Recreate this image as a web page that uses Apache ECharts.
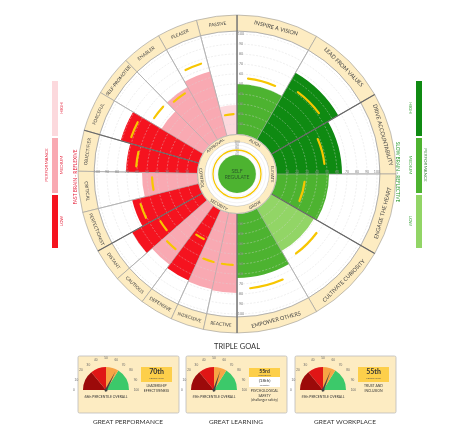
<!DOCTYPE html>
<html><head><meta charset="utf-8">
<script src="https://cdn.jsdelivr.net/npm/echarts@6/dist/echarts.min.js"></script>
<style>html,body{margin:0;padding:0;background:#fff}#c{width:475px;height:429px}</style>
</head><body><div id="c"></div>
<script>
// ---- data ----
var rightLabels = ['INSPIRE A VISION','LEAD FROM VALUES','DRIVE ACCOUNTABILITY','ENGAGE THE HEART','CULTIVATE CURIOSITY','EMPOWER OTHERS'];
var rightValues = [50,77,65,52,49,64];
var rightMarks  = [56,62,48,28,59,75];
var rightLevel  = [1,0,0,1,2,1];
var leftLabels = ['PASSIVE','PLEASER','ENABLER','SELF-PROMOTER','FORCEFUL','OBJECTIFIER','CRITICAL','PERFECTIONIST','DISTANT','CAUTIOUS','DEFENSIVE','INDECISIVE','REACTIVE'];
var leftValues = [29,66,60,48,81,71,55,68,80,73,77,78,79];
var leftMarks  = [20,76,56,60,72,61,45,61,50,57,33,51,51];
var leftLevel  = [0,1,1,1,2,2,1,2,2,1,2,1,1];
var leftBounds = [0,14.8,29.6,44.4,59.2,74,89,104,119,131.2,143.4,155.6,167.8,180];
var hubLabels = ['ALIGN','ELEVATE','GROW','SECURITY','CONTROL','APPROVAL'];
var hubAngles = [30,90,150,210.5,263.5,323];
var groupLines = [0,60,120,180,241,286];
var ticks = [10,20,30,40,50,60,70,80,90,100];
var selfValue = 59, selfMark = 75;
var gaugeValues = [65,60,62];
var gaugeOverall = ['68th PERCENTILE OVERALL','59th PERCENTILE OVERALL','59th PERCENTILE OVERALL'];
var goalTitles = ['GREAT PERFORMANCE','GREAT LEARNING','GREAT WORKPLACE'];

var greens = ['#0f8a12','#4db330','#92d566'];
var reds = ['#fcd9dd','#f9a9b2','#f5131f'];
var FONT = 'Lato';

// build sector records
var sectors = [];
rightLabels.forEach(function(l,i){
  sectors.push({label:l, a1:i*30, a2:i*30+30, v:rightValues[i], m:rightMarks[i], color:greens[rightLevel[i]]});
});
leftLabels.forEach(function(l,i){
  sectors.push({label:l, a1:360-leftBounds[i+1], a2:360-leftBounds[i], v:leftValues[i], m:leftMarks[i], color:reds[leftLevel[i]]});
});
var sectorData = sectors.map(function(s,i){ return [s.v,(s.a1+s.a2)/2,s.a1,s.a2,s.m,i]; });

function rad(a){ return (a-90)*Math.PI/180; }
function rOf(api,params,v,a){ var p=api.coord([v,a]); var cs=params.coordSys; return Math.hypot(p[0]-cs.cx,p[1]-cs.cy); }
function pos(cs,r,a){ var t=a*Math.PI/180; return [cs.cx+r*Math.sin(t), cs.cy-r*Math.cos(t)]; }
function rot(a){ var r=-a*Math.PI/180; if(a>90&&a<270) r+=Math.PI; return r; }

var chart = echarts.init(document.getElementById('c'));
var series = [];

// background white sectors + outer label ring
series.push({type:'custom', coordinateSystem:'polar', polarIndex:0, data:sectorData, silent:true, z:1,
  renderItem:function(params,api){
    var cs=params.coordSys, a1=api.value(2), a2=api.value(3), s=sectors[api.value(5)];
    var mid=(a1+a2)/2, p=pos(cs,151,mid);
    return {type:'group', children:[
      {type:'sector', shape:{cx:cs.cx,cy:cs.cy,r0:40,r:143,startAngle:rad(a1),endAngle:rad(a2),clockwise:true}, style:{fill:'#fff',stroke:'#aaa',lineWidth:0.6}},
      {type:'sector', shape:{cx:cs.cx,cy:cs.cy,r0:143,r:159,startAngle:rad(a1),endAngle:rad(a2),clockwise:true}, style:{fill:'#fdecc2',stroke:'#999',lineWidth:0.6}},
      {type:'text', x:p[0], y:p[1], rotation:rot(mid), style:{text:s.label, fontSize:a2-a1>20?5.5:4.6, fontFamily:FONT, fill:'#444', align:'center', verticalAlign:'middle'}}
    ]};
  }});
// bars
series.push({type:'custom', coordinateSystem:'polar', polarIndex:0, data:sectorData, z:2,
  renderItem:function(params,api){
    var cs=params.coordSys, a1=api.value(2), a2=api.value(3), s=sectors[api.value(5)];
    var r=rOf(api,params,api.value(0),api.value(1));
    return {type:'sector', shape:{cx:cs.cx,cy:cs.cy,r0:40,r:r,startAngle:rad(a1),endAngle:rad(a2),clockwise:true}, style:{fill:s.color}};
  }});
// grid rings over bars
series.push({type:'custom', coordinateSystem:'polar', polarIndex:0, data:ticks.map(function(t){return [t,0];}), silent:true, z:3,
  renderItem:function(params,api){
    var cs=params.coordSys, r=rOf(api,params,api.value(0),0);
    return {type:'circle', shape:{cx:cs.cx,cy:cs.cy,r:r}, style:{fill:null,stroke:'rgba(215,215,215,0.8)',lineWidth:0.5,lineDash:[2,1.5]}};
  }});
// thin sector boundaries
series.push({type:'custom', coordinateSystem:'polar', polarIndex:0, data:sectorData, silent:true, z:4,
  renderItem:function(params,api){
    var cs=params.coordSys, a=api.value(2), p1=pos(cs,40,a), p2=pos(cs,143,a);
    return {type:'line', shape:{x1:p1[0],y1:p1[1],x2:p2[0],y2:p2[1]}, style:{stroke:'#aaa',lineWidth:0.6}};
  }});
// yellow marks
series.push({type:'custom', coordinateSystem:'polar', polarIndex:0, data:sectorData, z:5,
  renderItem:function(params,api){
    var cs=params.coordSys, a1=api.value(2), a2=api.value(3), w=a2-a1;
    var r=rOf(api,params,api.value(4),api.value(1));
    return {type:'arc', shape:{cx:cs.cx,cy:cs.cy,r:r,startAngle:rad(a1+w*0.22),endAngle:rad(a2-w*0.22),clockwise:true}, style:{stroke:'#f7c600',lineWidth:2.2,fill:null,lineCap:'round'}};
  }});
// thick group lines
series.push({type:'custom', coordinateSystem:'polar', polarIndex:0, data:groupLines.map(function(g){return [0,g];}), silent:true, z:6,
  renderItem:function(params,api){
    var cs=params.coordSys, a=api.value(1), p1=pos(cs,40,a), p2=pos(cs,159,a);
    return {type:'line', shape:{x1:p1[0],y1:p1[1],x2:p2[0],y2:p2[1]}, style:{stroke:'#666',lineWidth:1.1}};
  }});
// tick labels in 4 directions
var tickData=[]; [0,90,180,270].forEach(function(d){ ticks.forEach(function(t){ tickData.push([t,d]); }); });
series.push({type:'custom', coordinateSystem:'polar', polarIndex:0, data:tickData, silent:true, z:7,
  renderItem:function(params,api){
    var p=api.coord([api.value(0),api.value(1)]), d=api.value(1);
    var dx=(d===0||d===180)?4:0, dy=(d===90||d===270)?-2.5:0;
    return {type:'text', x:p[0]+dx, y:p[1]+dy, style:{text:String(api.value(0)), fontSize:3.6, fill:'#888', fontFamily:FONT, align:'center', verticalAlign:'middle'}};
  }});
// hub ring
series.push({type:'custom', coordinateSystem:'polar', polarIndex:0, data:hubLabels.map(function(l,i){return [0,hubAngles[i],i];}), silent:true, z:8,
  renderItem:function(params,api){
    var cs=params.coordSys, i=api.value(2), a=api.value(1), p=pos(cs,35.8,a);
    var ch=[];
    if(i===0){ ch.push({type:'ring', shape:{cx:cs.cx,cy:cs.cy,r0:32,r:39.5}, style:{fill:'#fdecc2',stroke:'#999',lineWidth:0.6}}); }
    ch.push({type:'text', x:p[0], y:p[1], rotation:rot(a), style:{text:hubLabels[i], fontSize:4.2, fill:'#444', fontFamily:FONT, align:'center', verticalAlign:'middle'}});
    return {type:'group', children:ch};
  }});
// inner self-regulate polar
series.push({type:'custom', coordinateSystem:'polar', polarIndex:1, data:[[selfValue,0,selfMark]], z:9,
  renderItem:function(params,api){
    var cs=params.coordSys, r=rOf(api,params,api.value(0),0), rm=rOf(api,params,api.value(2),0);
    var ch=[{type:'circle', shape:{cx:cs.cx,cy:cs.cy,r:32}, style:{fill:'#fff'}}];
    ticks.forEach(function(t){ var rr=rOf(api,params,t,0); ch.push({type:'circle', shape:{cx:cs.cx,cy:cs.cy,r:rr}, style:{fill:null,stroke:'#e2e2e2',lineWidth:0.4}}); });
    ch.push({type:'circle', shape:{cx:cs.cx,cy:cs.cy,r:r}, style:{fill:'#4db330'}});
    ch.push({type:'circle', shape:{cx:cs.cx,cy:cs.cy,r:rm}, style:{fill:null,stroke:'#f7c600',lineWidth:1.3}});
    ticks.forEach(function(t){ if(t>=60){ var rr=rOf(api,params,t,0); ch.push({type:'text', x:cs.cx, y:cs.cy-rr, style:{text:String(t), fontSize:3.3, fill:'#888', align:'center', verticalAlign:'middle'}}); }});
    ch.push({type:'text', x:cs.cx, y:cs.cy, style:{text:'SELF\nREGULATE', fontSize:5, lineHeight:6, fill:'#2a5a2a', fontFamily:FONT, align:'center', verticalAlign:'middle'}});
    return {type:'group', children:ch};
  }});

// gauges
var gaugeCenters = [[106,390],[214,390],[323,390]];
gaugeValues.forEach(function(v,i){
  series.push({type:'gauge', center:gaugeCenters[i], radius:23, startAngle:180, endAngle:0, min:0, max:100, splitNumber:10,
    axisLine:{lineStyle:{width:23, color:[[0.28,'#9c0a0a'],[0.5,'#e01616'],[0.68,'#f7a445'],[1,'#3cc96a']]}},
    splitLine:{show:false}, axisTick:{show:false},
    axisLabel:{distance:-30, fontSize:3.2, color:'#666'},
    pointer:{width:1, length:'90%', itemStyle:{color:'#444'}},
    anchor:{show:true, size:3, itemStyle:{color:'#444'}},
    title:{show:false}, detail:{show:false}, data:[{value:v}], z:10});
});

// decorations
var g = [];
function T(x,y,t,o){ o=o||{}; g.push({type:'text', x:x, y:y, rotation:o.rot||0, z:20, style:{text:t, fontSize:o.fs||5, fill:o.c||'#444', fontFamily:FONT, fontWeight:o.fw||'normal', align:'center', verticalAlign:'middle', lineHeight:o.lh}}); }
function R(x,y,w,h,f,s){ g.push({type:'rect', shape:{x:x,y:y,width:w,height:h,r:s?1.5:0}, z:s?2:15, style:{fill:f, stroke:s||null, lineWidth:0.8}}); }
// legends
R(52,81,6,55,reds[0]); R(52,138,6,55,reds[1]); R(52,195,6,53,reds[2]);
R(416,81,6,55,greens[0]); R(416,138,6,55,greens[1]); R(416,195,6,53,greens[2]);
T(62,108,'HIGH',{rot:Math.PI/2,fs:4.5,c:'#e5213a'}); T(62,165,'MEDIUM',{rot:Math.PI/2,fs:4.5,c:'#e5213a'}); T(62,221,'LOW',{rot:Math.PI/2,fs:4.5,c:'#e5213a'});
T(47,165,'PERFORMANCE',{rot:Math.PI/2,fs:4.5,c:'#e5213a'}); T(75,177,'FAST BRAIN - REFLEXIVE',{rot:Math.PI/2,fs:4.8,c:'#e5213a'});
T(410,108,'HIGH',{rot:-Math.PI/2,fs:4.5,c:'#2a9a2a'}); T(410,165,'MEDIUM',{rot:-Math.PI/2,fs:4.5,c:'#2a9a2a'}); T(410,221,'LOW',{rot:-Math.PI/2,fs:4.5,c:'#2a9a2a'});
T(425,165,'PERFORMANCE',{rot:-Math.PI/2,fs:4.5,c:'#2a7a2a'}); T(398,172,'SLOW BRAIN - REFLECTIVE',{rot:-Math.PI/2,fs:4.8,c:'#2a9a2a'});
// triple goal
T(237,347,'TRIPLE GOAL',{fs:7.5,c:'#333'});
var bx=[78,186,295];
bx.forEach(function(x,i){
  R(x,356,101,57,'#fdecc2','#bbb');
  T(gaugeCenters[i][0],397,gaugeOverall[i],{fs:3.4,c:'#333'});
  T(x+50,422,goalTitles[i],{fs:6.5,c:'#333'});
});
R(141,367,31,15,'#fdcf4a'); T(156.5,372,'70th',{fs:7,fw:'bold',c:'#333'}); T(156.5,378.5,'PERCENTILE',{fs:2.5,c:'#555'});
T(156.5,386,'LEADERSHIP',{fs:3.4,c:'#333'}); T(156.5,391,'EFFECTIVENESS',{fs:3.4,c:'#333'});
R(249,368,31,9,'#fdcf4a'); T(264.5,371,'55rd',{fs:5,fw:'bold',c:'#333'}); T(264.5,375.5,'PERCENTILE',{fs:2.2,c:'#555'});
R(249,377,31,10,'#fff'); T(264.5,381,'(18th)',{fs:4.5,c:'#333'}); T(264.5,385,'Percentile',{fs:2.2,c:'#555'});
T(264.5,391,'PSYCHOLOGICAL',{fs:3.4,c:'#333'}); T(264.5,395.5,'SAFETY',{fs:3.4,c:'#333'}); T(264.5,400,'(challenger safety)',{fs:3.4,c:'#333'});
R(358,367,31,15,'#fdcf4a'); T(373.5,372,'55th',{fs:7,fw:'bold',c:'#333'}); T(373.5,378.5,'PERCENTILE',{fs:2.5,c:'#555'});
T(373.5,386,'TRUST AND',{fs:3.4,c:'#333'}); T(373.5,391,'INCLUSION',{fs:3.4,c:'#333'});

chart.setOption({
  animation:false,
  polar:[{center:[237,174], radius:[40,140]},{center:[237,174], radius:[0,32]}],
  radiusAxis:[
    {polarIndex:0, type:'value', min:0, max:100, interval:10, axisLine:{show:false}, axisTick:{show:false}, axisLabel:{show:false}, splitLine:{show:false}},
    {polarIndex:1, type:'value', min:0, max:100, interval:10, axisLine:{show:false}, axisTick:{show:false}, axisLabel:{show:false}, splitLine:{show:false}}
  ],
  angleAxis:[
    {polarIndex:0, type:'value', min:0, max:360, startAngle:90, clockwise:true, show:false},
    {polarIndex:1, type:'value', min:0, max:360, startAngle:90, clockwise:true, show:false}
  ],
  graphic:g,
  series:series
});
</script></body></html>
